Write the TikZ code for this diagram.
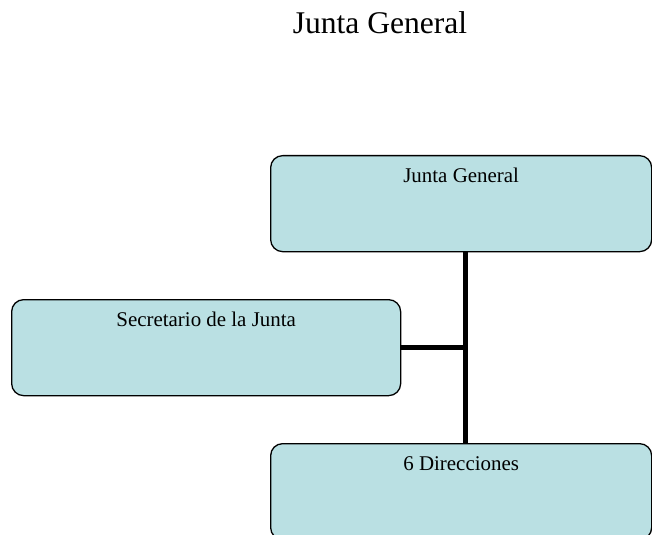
\documentclass[tikz,border=0pt]{standalone}
\usepackage{fontspec}
\setmainfont{Liberation Serif}
\begin{document}
\begin{tikzpicture}[x=1bp,y=-1bp,
    cargo/.style ={rectangle, draw, line width=1.3bp, rounded corners=12bp,
      fill={rgb,255:red,186;green,224;blue,227}, anchor=north west,
      inner xsep=0pt, inner ysep=0pt, font=\fontsize{21}{24}\selectfont,
      text height=27bp, text depth=69bp},
    enlace/.style ={line width=5bp}]
   \useasboundingbox (0,0) rectangle (652,535);
   \node[font=\fontsize{31.7}{36}\selectfont] (titulo) at (380,23) {Junta General};
   \node[cargo, minimum width=381bp] (junta) at (270,155) {Junta General};
   \node[cargo, minimum width=389bp] (secre) at (11,299) {Secretario de la Junta};
   \node[cargo, minimum width=381bp] (direc) at (270,443) {6 Direcciones};
   \coordinate (cruce) at (465,347);
   \draw[enlace] (junta.south -| cruce) to (direc.north -| cruce);
   \draw[enlace] (secre.east |- cruce) to (cruce);
 \end{tikzpicture}
\end{document}
